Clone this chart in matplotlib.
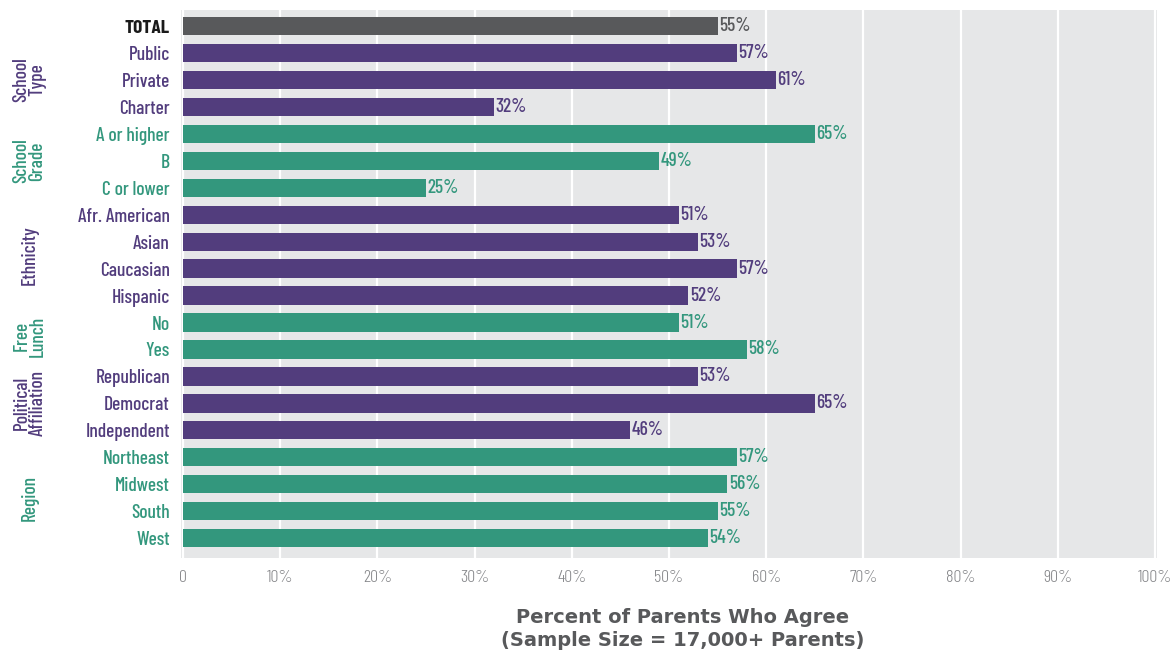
import matplotlib.pyplot as plt

labels = ["TOTAL", "Public", "Private", "Charter", "A or higher", "B", "C or lower",
          "Afr. American", "Asian", "Caucasian", "Hispanic", "No", "Yes",
          "Republican", "Democrat", "Independent", "Northeast", "Midwest", "South", "West"]
values = [55, 57, 61, 32, 65, 49, 25, 51, 53, 57, 52, 51, 58, 53, 65, 46, 57, 56, 55, 54]
groups = ["School\nType", "School\nGrade", "Ethnicity", "Free\nLunch", "Political\nAffiliation", "Region"]
group_sizes = [3, 3, 4, 2, 3, 4]
ticks = [0, 10, 20, 30, 40, 50, 60, 70, 80, 90, 100]
tick_labels = ["0"] + ["%d%%" % t for t in ticks[1:]]

purple = "#523D7D"
green = "#33977D"
gray = "#58595B"
group_colors = [purple, green, purple, green, purple, green]

colors = [gray]
for c, n in zip(group_colors, group_sizes):
    colors += [c] * n

cond = ["Barlow Condensed", "Roboto Condensed", "DejaVu Sans"]
plt.rcParams["font.family"] = cond

fig = plt.figure(figsize=(11.7, 6.54), dpi=100)
ax = fig.add_axes([181 / 1170, 1 - 558 / 654, (1157 - 181) / 1170, (558 - 10) / 654])
ax.set_facecolor("#E6E7E8")

ypos = list(range(len(labels)))
ax.barh(ypos, values, height=0.68, color=colors, zorder=3)
for y, v, c in zip(ypos, values, colors):
    ax.text(v + 0.15, y, "%d%%" % v, va="center", ha="left", color=c,
            fontsize=14, fontweight=500, zorder=4)

ax.set_xlim(-0.2, 100.2)
ax.set_ylim(len(labels) - 0.26, -0.6)
ax.set_xticks(ticks)
ax.set_xticklabels(tick_labels, color="#86878A", fontsize=13, fontweight=300)
ax.set_yticks(ypos)
ax.set_yticklabels(labels, fontsize=14, fontweight=500)
for lab, c in zip(ax.get_yticklabels(), colors):
    lab.set_color(c)
ax.get_yticklabels()[0].set_color("#1A1A1A")
ax.get_yticklabels()[0].set_fontweight("bold")
ax.tick_params(axis="y", length=0, pad=8)
ax.tick_params(axis="x", length=0, pad=9)
ax.grid(axis="x", color="white", linewidth=1.6, zorder=1)
for s in ax.spines.values():
    s.set_visible(False)

# group names on the far left
start = 1
for g, n, c in zip(groups, group_sizes, group_colors):
    center = start + (n - 1) / 2
    ax.text(-15.8, center, g, rotation=90, ha="center", va="center", color=c,
            fontsize=14, fontweight=500, linespacing=0.85)
    start += n

fig.text(683 / 1170, 1 - 629 / 654,
         "Percent of Parents Who Agree\n(Sample Size = 17,000+ Parents)",
         ha="center", va="center", fontsize=14, fontweight="bold", color=gray,
         linespacing=1.25, family=["DejaVu Sans"])

fig.savefig("out.png", dpi=100)
